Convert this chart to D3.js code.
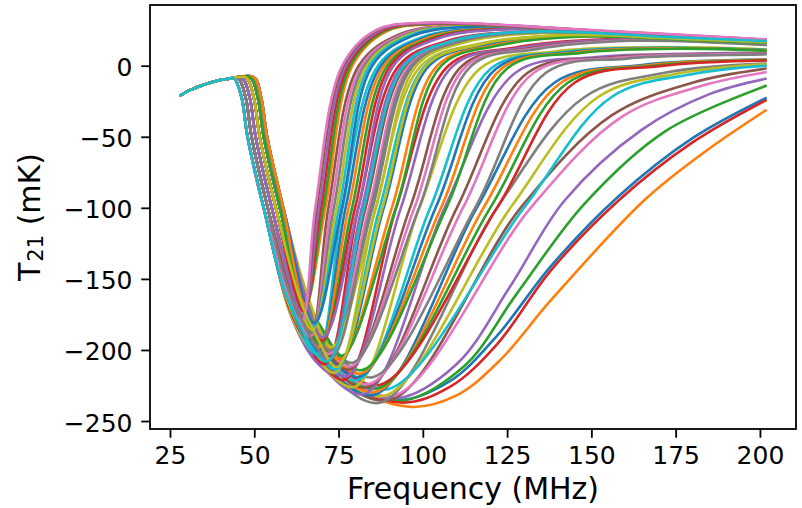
<!DOCTYPE html>
<html>
<head>
<meta charset="utf-8">
<script src="https://cdnjs.cloudflare.com/ajax/libs/d3/7.8.5/d3.min.js"></script>
<style>
body { margin: 0; background: #fff; }
text { font-family: "DejaVu Sans", sans-serif; fill: #000; }
</style>
</head>
<body>
<div id="container"></div>
<script>
// part shared by every model (MHz, mK)
var sharedStart = [[27.85, -21], [31, -17.2], [35, -13.4], [39, -10.6], [42, -9.4]];

// onset of the absorption trough
var drops = [
    [[44.0, -9.0], [46.2, -22], [48.0, -50], [52.8, -100]],
    [[45.2, -8.8], [47.4, -22], [49.2, -50], [54.0, -100]],
    [[46.4, -8.6], [48.6, -22], [50.4, -50], [55.2, -100]],
    [[47.6, -8.4], [49.8, -22], [51.6, -50], [56.4, -100]],
    [[48.8, -8.2], [51.0, -22], [52.8, -50], [57.6, -100]],
    [[49.8, -8.0], [52.0, -22], [53.8, -50], [58.6, -100]]
];

// late models: [drop, points from the bend / trough on]
var lateCurves = [
    [5, [[67.6, -182], [76.6, -216], [92.5, -235], [108, -222], [122, -190], [138, -141], [158, -92], [180, -51], [202, -22.5]]],
    [2, [[64.2, -183], [73.2, -218], [96, -240], [110, -232], [123, -207], [138, -165], [166, -94], [184, -60], [202, -31]]],
    [4, [[66.6, -182], [75.6, -216], [92.5, -236], [112, -212], [128, -160], [148, -97], [172, -46], [202, -14]]],
    [1, [[63, -182], [72, -216], [93.5, -237], [108, -226], [122, -196], [138, -144], [158, -95], [180, -54], [202, -24]]],
    [0, [[61.8, -181], [70.8, -214], [92, -234], [110, -210], [126, -155], [142, -95], [165, -45], [185, -20], [202, -9]]],
    [1, [[63, -181], [72, -214], [90.5, -235], [129, -100], [156, -35], [180, -12], [202, -2]]],
    [3, [[65.4, -181], [74.4, -212], [91.5, -232], [132, -100], [159, -36], [183, -14], [202, -4.5]]],
    [0, [[61.8, -180], [70.8, -212], [87.5, -237], [122, -100], [148, -22], [173, -4.5], [202, 1.5]]],
    [2, [[64.2, -180], [73.2, -212], [88.7, -232.2], [126, -100], [152, -22], [177, -5], [202, 1]]],
    [4, [[66.6, -180], [75.6, -210], [89.9, -227.4], [130, -100], [156, -22], [181, -5.5], [202, 0]]]
];

var midCurves = [
    [1, [[62.5, -178], [69, -205], [85.6, -231.6], [116, -100], [139, -12], [165, 0.5], [202, 4.3]]],
    [2, [[63.7, -178], [70.2, -205], [86.2, -229.2], [118, -100], [141, -12], [167, 0.3], [202, 4.1]]],
    [3, [[64.9, -178], [71.4, -205], [86.8, -226.8], [120, -100], [143, -12], [169, 0.1], [202, 3.9]]],
    [4, [[66.1, -178], [72.6, -205], [87.4, -224.4], [122, -100], [145, -12], [171, -0.1], [202, 3.7]]],
    [0, [[61.3, -178], [67.8, -205], [82.6, -231], [106.5, -100], [127.5, -5], [151.5, 6], [180.5, 8.5], [202, 9]]],
    [2, [[63.7, -178], [70.2, -205], [83.7, -226.2], [110.1, -100], [131.1, -5], [155.1, 5.7], [184.1, 8.1], [202, 8.6]]],
    [3, [[64.9, -177], [71.4, -204], [84.3, -223.8], [111.9, -100], [132.9, -5], [156.9, 5.3], [185.9, 7.9], [202, 8.4]]],
    [5, [[67.1, -176], [73.6, -202], [85.4, -219], [115.5, -100], [136.5, -5], [160.5, 5], [189.5, 7.5], [202, 8]]],
    [0, [[60.8, -175], [66.8, -200], [79.7, -226], [99, -100], [117, -2], [139, 10], [168, 13], [202, 11.5]]],
    [2, [[63.2, -175], [69.2, -200], [80.7, -221.2], [102.2, -100], [120.2, -2], [142.2, 9.6], [171.2, 12.6], [202, 11.1]]],
    [3, [[64.4, -175], [70.4, -200], [81.3, -218.8], [103.8, -100], [121.8, -2], [143.8, 9.4], [172.8, 12.4], [202, 10.9]]],
    [4, [[65.6, -175], [71.6, -199], [81.8, -216.4], [105.4, -100], [123.4, -2], [145.4, 9.2], [174.4, 12.2], [202, 10.7]]],
    [5, [[66.6, -174], [72.6, -198], [82.3, -214], [107, -100], [125, -2], [147, 9], [176, 12], [202, 10.5]]],
    [0, [[60.3, -170], [65.8, -195], [76.8, -221], [92.1, -100], [107.6, 0], [126.6, 12.5], [154.6, 18.5], [202, 15.5]]],
    [1, [[61.5, -170], [67, -195], [77.3, -218.6], [93.5, -100], [109, 0], [128, 12.3], [156, 18.3], [202, 15.3]]],
    [3, [[63.9, -170], [69.4, -194], [78.2, -213.8], [96.2, -100], [111.7, 0], [130.7, 11.9], [158.7, 17.9], [202, 14.9]]],
    [4, [[65.1, -170], [70.6, -193], [78.7, -211.4], [97.5, -100], [113, 0], [132, 11.7], [160, 17.7], [202, 14.7]]],
    [5, [[66.1, -169], [71.6, -192], [79.2, -209], [98.9, -100], [114.4, 0], [133.4, 11.5], [161.4, 17.5], [202, 14.5]]],
    [0, [[59.8, -165], [64.8, -190], [73.9, -216], [86, -100], [99.5, 0], [116, 15], [142, 21.5], [180, 19], [202, 17]]],
    [1, [[61, -165], [66, -190], [74.3, -213.6], [87.2, -100], [100.7, 0], [117.2, 14.8], [143.2, 21.3], [180, 18.8], [202, 16.8]]],
    [2, [[62.2, -165], [67.2, -189], [74.8, -211.2], [88.4, -100], [101.9, 0], [118.4, 14.6], [144.4, 21.1], [180, 18.6], [202, 16.6]]],
    [4, [[64.6, -165], [69.6, -188], [75.7, -206.4], [90.8, -100], [104.3, 0], [120.8, 14.2], [146.8, 20.7], [180, 18.2], [202, 16.2]]],
    [5, [[65.6, -164], [70.6, -187], [76.1, -204], [92, -100], [105.5, 0], [122, 14], [148, 20.5], [180, 18], [202, 16]]]
];

var earlyCurves = [
    [0, [[59.8, -163], [71, -210], [80.9, -100], [92.9, 0], [107.4, 17.5], [130.4, 24], [172, 20.5], [202, 17.5]]],
    [1, [[61, -163], [71.4, -207.6], [81.9, -100], [93.9, 0], [108.4, 17.3], [131.4, 23.8], [172, 20.3], [202, 17.3]]],
    [2, [[62.2, -163], [71.8, -205.2], [83, -100], [95, 0], [109.5, 17.1], [132.5, 23.6], [172, 20.1], [202, 17.1]]],
    [3, [[63.4, -162], [72.2, -202.8], [84, -100], [96, 0], [110.5, 16.9], [133.5, 23.4], [172, 19.9], [202, 16.9]]],
    [4, [[64.6, -161], [72.6, -200.4], [85.1, -100], [97.1, 0], [111.6, 16.7], [134.6, 23.2], [172, 19.7], [202, 16.7]]],
    [5, [[65.6, -160], [73, -198], [86.1, -100], [98.1, 0], [112.6, 16.5], [135.6, 23], [172, 19.5], [202, 16.5]]],
    [0, [[59.3, -160], [68.6, -203], [76.2, -100], [86.7, 0], [99.7, 20], [119.7, 26.5], [165, 22], [202, 18]]],
    [1, [[60.5, -160], [69, -200.6], [77.1, -100], [87.6, 0], [100.6, 19.8], [120.6, 26.3], [165, 21.8], [202, 17.8]]],
    [2, [[61.7, -160], [69.3, -198.2], [78, -100], [88.5, 0], [101.5, 19.6], [121.5, 26.1], [165, 21.6], [202, 17.6]]],
    [3, [[69.7, -195.8], [79, -100], [89.5, 0], [102.5, 19.4], [122.5, 25.9], [165, 21.4], [202, 17.4]]],
    [4, [[70, -193.4], [79.9, -100], [90.4, 0], [103.4, 19.2], [123.4, 25.7], [165, 21.2], [202, 17.2]]],
    [5, [[70.4, -191], [80.8, -100], [91.3, 0], [104.3, 19], [124.3, 25.5], [165, 21], [202, 17]]],
    [0, [[66.2, -193], [72, -100], [81, 0], [93, 22], [111, 28.5], [160, 23.5], [202, 18]]],
    [1, [[66.5, -190.6], [72.8, -100], [81.8, 0], [93.8, 21.8], [111.8, 28.3], [160, 23.3], [202, 17.8]]],
    [2, [[66.8, -188.2], [73.6, -100], [82.6, 0], [94.6, 21.6], [112.6, 28.1], [160, 23.1], [202, 17.6]]],
    [3, [[67.2, -185.8], [74.4, -100], [83.4, 0], [95.4, 21.4], [113.4, 27.9], [160, 22.9], [202, 17.4]]],
    [4, [[67.5, -183.4], [75.2, -100], [84.2, 0], [96.2, 21.2], [114.2, 27.7], [160, 22.7], [202, 17.2]]],
    [5, [[67.8, -181], [76, -100], [85, 0], [97, 21], [115, 27.5], [160, 22.5], [202, 17]]],
    [5, [[65.1, -168], [71.1, -100], [79.1, 0], [89.1, 24], [103.1, 29.2], [150, 24], [202, 17.5]]],
    [4, [[64.9, -170.4], [70.5, -100], [78.5, 0], [88.5, 24.2], [102.5, 29.4], [150, 24.2], [202, 17.7]]],
    [3, [[64.6, -172.8], [69.8, -100], [77.8, 0], [87.8, 24.4], [101.8, 29.6], [150, 24.4], [202, 17.9]]],
    [2, [[64.4, -175.2], [69.2, -100], [77.2, 0], [87.2, 24.6], [101.2, 29.8], [150, 24.6], [202, 18.1]]],
    [1, [[64.1, -177.6], [68.5, -100], [76.5, 0], [86.5, 24.8], [100.5, 30], [150, 24.8], [202, 18.3]]],
    [0, [[63.9, -180], [68.1, -100], [76.1, 0], [86.1, 25], [100.1, 30.2], [150, 25], [202, 18.5]]],
    [1, [[61, -163], [72.5, -206], [84.6, -100], [96.6, 0], [111, 17], [134, 23.4], [172, 19.9], [202, 17]]],
    [3, [[63.4, -163], [68.4, -190], [74.5, -212], [88, -100], [101, 0], [117, 15], [142, 21.5], [180, 18.8], [202, 16.8]]],
    [0, [[59.8, -163], [71.6, -208], [82.5, -100], [94.5, 0], [109, 17.5], [132, 24], [172, 20.3], [202, 17.3]]]
];

var xTicks = [25, 50, 75, 100, 125, 150, 175, 200];
var yTicks = [0, -50, -100, -150, -200, -250];

var width = 802,
    height = 508,
    margin = { left: 150, top: 5, right: 6, bottom: 79 },
    g_width = width - margin.left - margin.right,
    g_height = height - margin.top - margin.bottom;

var svg = d3.select('#container')
    .append('svg')
    .attr('width', width)
    .attr('height', height)
var g = svg.append('g')
    .attr('transform', 'translate(' + margin.left + ',' + margin.top + ')')

var scale_x = d3.scaleLinear()
    .domain([19.07, 210.7])
    .range([0, g_width])
var scale_y = d3.scaleLinear()
    .domain([-255.6, 42.7])
    .range([g_height, 0])

var line_generator = d3.line()
    .x(function (d) { return scale_x(d[0]); })
    .y(function (d) { return scale_y(d[1]); })
    .curve(d3.curveCatmullRom.alpha(0.5))

var curves = lateCurves.concat(midCurves, earlyCurves);
var colors = d3.schemeCategory10;

g.selectAll('path.model')
    .data(curves)
    .enter()
    .append('path')
    .attr('class', 'model')
    .attr('d', function (c) { return line_generator(sharedStart.concat(drops[c[0]], c[1])); })
    .attr('fill', 'none')
    .attr('stroke', function (c, i) { return colors[i % 10]; })
    .attr('stroke-width', 2.6)
    .attr('stroke-linejoin', 'round')

// x
var x_axis = d3.axisBottom(scale_x).tickValues(xTicks).tickSize(8.75).tickPadding(8.75);
var gx = g.append('g')
    .attr('transform', 'translate(0,' + g_height + ')')
    .call(x_axis)
// y
var y_axis = d3.axisLeft(scale_y).tickValues(yTicks).tickSize(8.75).tickPadding(8.75);
var gy = g.append('g')
    .call(y_axis)
gy.selectAll('text').attr('dy', '0.4em')

g.selectAll('.domain').remove()
g.selectAll('.tick line').attr('stroke', '#000').attr('stroke-width', 1.8)
g.selectAll('.tick text').attr('font-size', 25).attr('font-family', '"DejaVu Sans", sans-serif').attr('fill', '#000')

// frame
g.append('rect')
    .attr('width', g_width)
    .attr('height', g_height)
    .attr('fill', 'none')
    .attr('stroke', '#000')
    .attr('stroke-width', 1.8)

svg.append('text')
    .attr('x', margin.left + g_width / 2)
    .attr('y', 499)
    .attr('text-anchor', 'middle')
    .attr('font-size', 30)
    .text('Frequency (MHz)')

var ylab = svg.append('text')
    .attr('transform', 'translate(40,' + (margin.top + g_height / 2) + ') rotate(-90)')
    .attr('text-anchor', 'middle')
    .attr('font-size', 30)
ylab.append('tspan').text('T')
ylab.append('tspan').attr('font-size', 21).attr('dy', 3).attr('dx', 1).text('21')
ylab.append('tspan').attr('dy', -3).text('\u00a0(mK)')
</script>
</body>
</html>
